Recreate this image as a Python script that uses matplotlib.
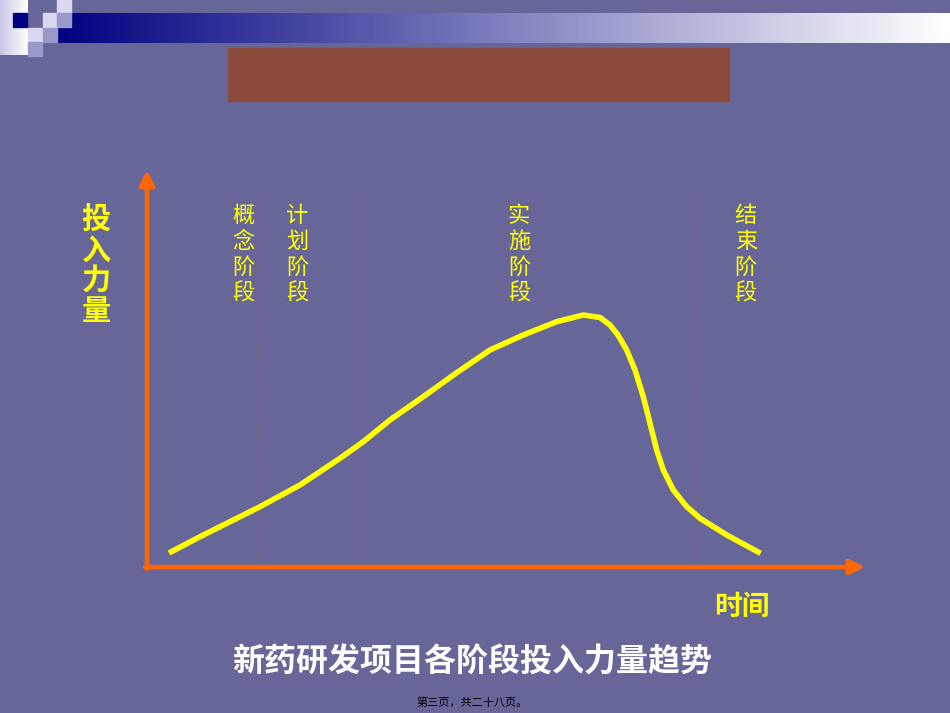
"""
New-drug R&D project: effort by stage over time (slide recreation).
"""

import numpy as np
import matplotlib.pyplot as plt
from matplotlib.patches import Rectangle

plt.rcParams['font.family'] = ['Noto Sans CJK SC', 'DejaVu Sans']

# ---- data ----
time_pts = [3.06, 7.38, 15.74, 21.31, 26.88, 30.13, 33.84, 38.48, 43.13,
            47.77, 52.41, 57.06, 60.77, 63.09, 64.48, 65.60, 66.81, 67.97,
            69.12, 70.06, 70.99, 71.91, 73.30, 75.17, 77.02, 80.74, 85.46]
effort_pts = [3.53, 7.63, 15.19, 20.65, 27.38, 31.56, 37.03, 42.90, 48.94,
              54.66, 58.44, 61.79, 63.48, 62.85, 60.96, 58.44, 54.66, 49.62,
              42.90, 36.17, 29.47, 24.43, 19.40, 15.19, 12.27, 8.06, 3.45]
stage_names = ['概念阶段', '计划阶段', '实施阶段', '结束阶段']
stage_label_x = [13.4, 20.9, 51.8, 83.4]
stage_bounds = [15.7, 30.1, 76.5]

title = '新药研发项目各阶段投入力量趋势'
y_label = '投入力量'
x_label = '时间'
footer = '第三页，共二十八页。'

BG = '#666699'
ORANGE = '#FF6600'
YELLOW = '#FFFF00'

W, H = 950, 713
fig = plt.figure(figsize=(W / 100, H / 100), dpi=100, facecolor=BG)

# background layer in pixel coordinates
bg = fig.add_axes([0, 0, 1, 1])
bg.set_xlim(0, W)
bg.set_ylim(H, 0)
bg.axis('off')
bg.set_facecolor(BG)

# banner gradient navy -> white
grad = np.linspace(0, 1, 256).reshape(1, -1)
navy = np.array([0, 0, 128]) / 255
white = np.array([1, 1, 1])
img = navy[None, None, :] + grad[..., None] * (white - navy)[None, None, :]
bg.imshow(img, extent=[57, W, 43, 13], aspect='auto', zorder=1)

# top-left block gradient
g2 = np.linspace(0, 1, 64).reshape(1, -1)
lav = np.array([200, 200, 228]) / 255
img2 = lav[None, None, :] + g2[..., None] * (white - lav)[None, None, :]
bg.imshow(img2, extent=[0, 28, 55, 0], aspect='auto', zorder=1)

s = 14.3
squares = [
    (13, 13, '#000080'),
    (43, 13, '#D8D8EE'),
    (57, 0, '#D8D8EE'),
    (57, 13, '#9999CC'),
    (28, 28, '#D8D8EE'),
    (43, 28, '#9999CC'),
    (28, 42, '#9999CC'),
]
for sx, sy, c in squares:
    bg.add_patch(Rectangle((sx, sy), s, s, color=c, zorder=2))

# brown title box
bg.add_patch(Rectangle((228, 48), 501, 53, color='#8A4A3C', zorder=2))

# ---- chart ----
ax = fig.add_axes([147 / W, 1 - 567 / H, 718 / W, 397 / H])
ax.set_xlim(0, 100)
ax.set_ylim(0, 100)
ax.axis('off')

for b in stage_bounds:
    ax.plot([b, b], [2, 95], color='#8C5A80', lw=0.8, ls=(0, (2, 2)), zorder=1)

ax.plot(time_pts, effort_pts, color=YELLOW, lw=4, solid_capstyle='butt',
        solid_joinstyle='round', zorder=3)

for name, lx in zip(stage_names, stage_label_x):
    ax.text(lx, 91.5, '\n'.join(name), color=YELLOW, fontsize=16,
            ha='center', va='top', linespacing=1.17)

arrow = dict(arrowstyle='-|>', color=ORANGE, lw=3.2, mutation_scale=22,
             shrinkA=0, shrinkB=0)
ax.annotate('', xy=(0, 1), xytext=(0, -0.005), xycoords='axes fraction',
            arrowprops=arrow)
ax.annotate('', xy=(1, 0), xytext=(-0.003, 0), xycoords='axes fraction',
            arrowprops=arrow)

fig.text(96 / W, 1 - 205 / H, '\n'.join(y_label), color=YELLOW, fontsize=21,
         fontweight='bold', ha='center', va='top', linespacing=1.02)
fig.text(742 / W, 1 - 607 / H, x_label, color=YELLOW, fontsize=20,
         fontweight='bold', ha='center', va='center')
fig.text(472 / W, 1 - 663 / H, title, color='white', fontsize=23,
         fontweight='bold', ha='center', va='center')
fig.text(472 / W, 1 - 702 / H, footer, color='black', fontsize=8,
         ha='center', va='center')

fig.savefig('out.png', dpi=100, facecolor=BG)
